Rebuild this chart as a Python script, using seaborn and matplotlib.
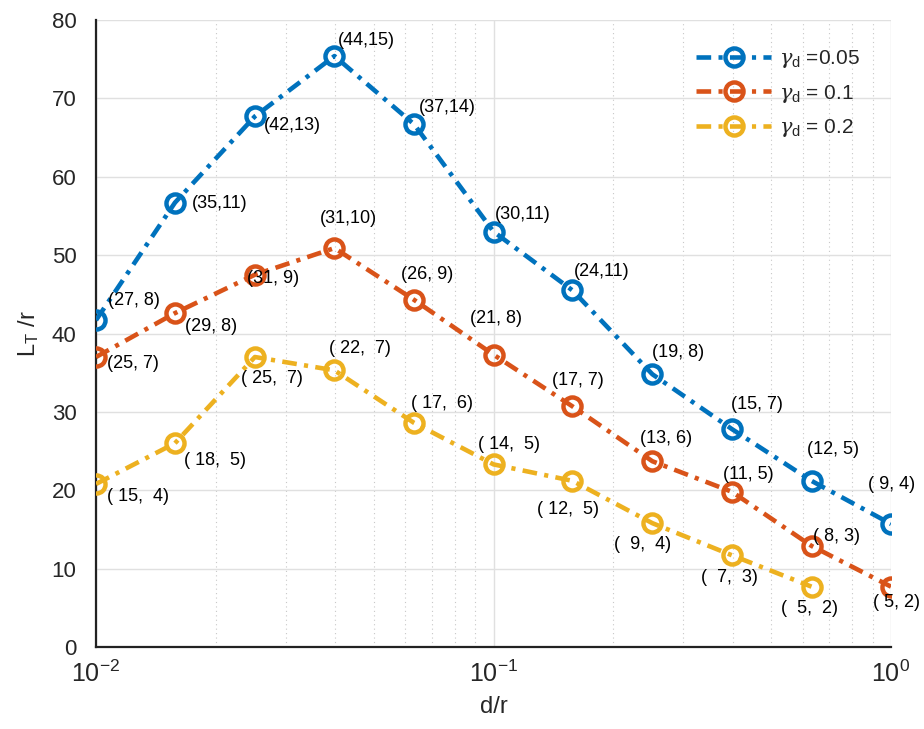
import matplotlib
matplotlib.use("Agg")
import matplotlib.pyplot as plt
import matplotlib.ticker as mticker
import numpy as np
import pandas as pd
import seaborn as sns

# ---- data ----
x_vals = [0.01, 0.0158, 0.0251, 0.0398, 0.0631, 0.1, 0.158, 0.251, 0.398, 0.631, 1.0]
blue_y = [41.7, 56.7, 67.7, 75.4, 66.7, 53.0, 45.5, 34.8, 27.8, 21.2, 15.7]
red_y = [37.0, 42.6, 47.5, 50.9, 44.3, 37.3, 30.7, 23.7, 19.8, 12.9, 7.7]
yellow_y = [20.8, 26.0, 37.0, 35.3, 28.6, 23.3, 21.2, 15.8, 11.7, 7.7]

blue_lbl = ["(27, 8)", "(35,11)", "(42,13)", "(44,15)", "(37,14)", "(30,11)",
            "(24,11)", "(19, 8)", "(15, 7)", "(12, 5)", "( 9, 4)"]
red_lbl = ["(25, 7)", "(29, 8)", "(31, 9)", "(31,10)", "(26, 9)", "(21, 8)",
           "(17, 7)", "(13, 6)", "(11, 5)", "( 8, 3)", "( 5, 2)"]
yellow_lbl = ["( 15,  4)", "( 18,  5)", "( 25,  7)", "( 22,  7)", "( 17,  6)",
              "( 14,  5)", "( 12,  5)", "(  9,  4)", "(  7,  3)", "(  5,  2)"]

series_names = [r"$\gamma_\mathrm{d}$ =0.05", r"$\gamma_\mathrm{d}$ = 0.1", r"$\gamma_\mathrm{d}$ = 0.2"]
colors = ["#0072BD", "#D95319", "#EDB120"]

# label offsets in pixels (dx to text left, dy to text center; y down positive)
blue_off = [(12, -20), (17, 1), (9, 9), (3, -16), (5, -17), (1, -17), (1, -19),
            (0, -22), (-1, -25), (-5, -31), (-23, -39)]
red_off = [(11, 6), (10, 13), (-8, 4), (-15, -30), (-13, -25), (-23, -36),
           (-20, -26), (-12, -23), (-9, -17), (1, -9), (-18, 16)]
yellow_off = [(11, 13), (9, 17), (-14, 21), (-5, -22), (-3, -19), (-15, -20),
              (-35, 29), (-38, 21), (-31, 22), (-31, 22)]

sns.set_theme(style="white")
plt.rcParams["font.family"] = ["Liberation Sans", "DejaVu Sans"]
plt.rcParams["mathtext.fontset"] = "custom"
plt.rcParams["mathtext.rm"] = "Liberation Sans"
plt.rcParams["mathtext.it"] = "DejaVu Serif:italic"

fig = plt.figure(figsize=(9.24, 7.29), dpi=100)
ax = fig.add_axes([96 / 924, 1 - 647 / 729, 795 / 924, 627 / 729])

all_y = [blue_y, red_y, yellow_y]
all_lbl = [blue_lbl, red_lbl, yellow_lbl]
all_off = [blue_off, red_off, yellow_off]

for name, ys, col in zip(series_names, all_y, colors):
    df = pd.DataFrame({"x": x_vals[:len(ys)], "y": ys})
    sns.lineplot(data=df, x="x", y="y", ax=ax, color=col,
                 linestyle=(0, (3.2, 1.6, 0.9, 1.6)),
                 linewidth=3.3, marker="o", markersize=13, mfc="none",
                 mec=col, mew=3.2, label=name, zorder=3)

for ys, lbls, offs in zip(all_y, all_lbl, all_off):
    for xv, yv, lb, (dx, dy) in zip(x_vals, ys, lbls, offs):
        ax.annotate(lb, (xv, yv), xytext=(dx, -dy), textcoords="offset pixels",
                    ha="left", va="center", fontsize=13, color="black", zorder=4)

ax.set_xscale("log")
ax.set_xlim(0.01, 1.0)
ax.set_ylim(0, 80)
ax.set_yticks(np.arange(0, 81, 10))
ax.xaxis.set_major_locator(mticker.LogLocator(base=10))
ax.xaxis.set_minor_locator(mticker.LogLocator(base=10, subs=np.arange(2, 10)))
ax.xaxis.set_minor_formatter(mticker.NullFormatter())

ax.grid(True, which="major", color="#e0e0e0", linewidth=1, linestyle="-", zorder=0)
ax.grid(True, which="minor", axis="x", color="#c8c8c8", linewidth=0.8, linestyle=(0, (1, 3)), zorder=0)
ax.set_axisbelow(True)

for s in ["top", "right"]:
    ax.spines[s].set_visible(False)
for s in ["left", "bottom"]:
    ax.spines[s].set_color("#222222")
    ax.spines[s].set_linewidth(1.6)

ax.tick_params(axis="both", which="major", direction="in", length=6, width=1.4,
               labelsize=16, colors="#262626", pad=14)
ax.tick_params(axis="x", which="minor", direction="in", length=4, width=1.0, colors="#222222")
ax.tick_params(axis="x", which="major", labelsize=18, pad=10)

ax.set_xlabel("d/r", fontsize=17, color="#262626", labelpad=6)
ax.set_ylabel(r"L$_\mathrm{T}$ /r", fontsize=17, color="#262626", labelpad=8)

leg = ax.legend(loc="upper right", bbox_to_anchor=(0.985, 0.985), frameon=False,
                fontsize=15, handlelength=3.6, handletextpad=0.4, labelspacing=0.6)

fig.savefig("out.png", dpi=100)
